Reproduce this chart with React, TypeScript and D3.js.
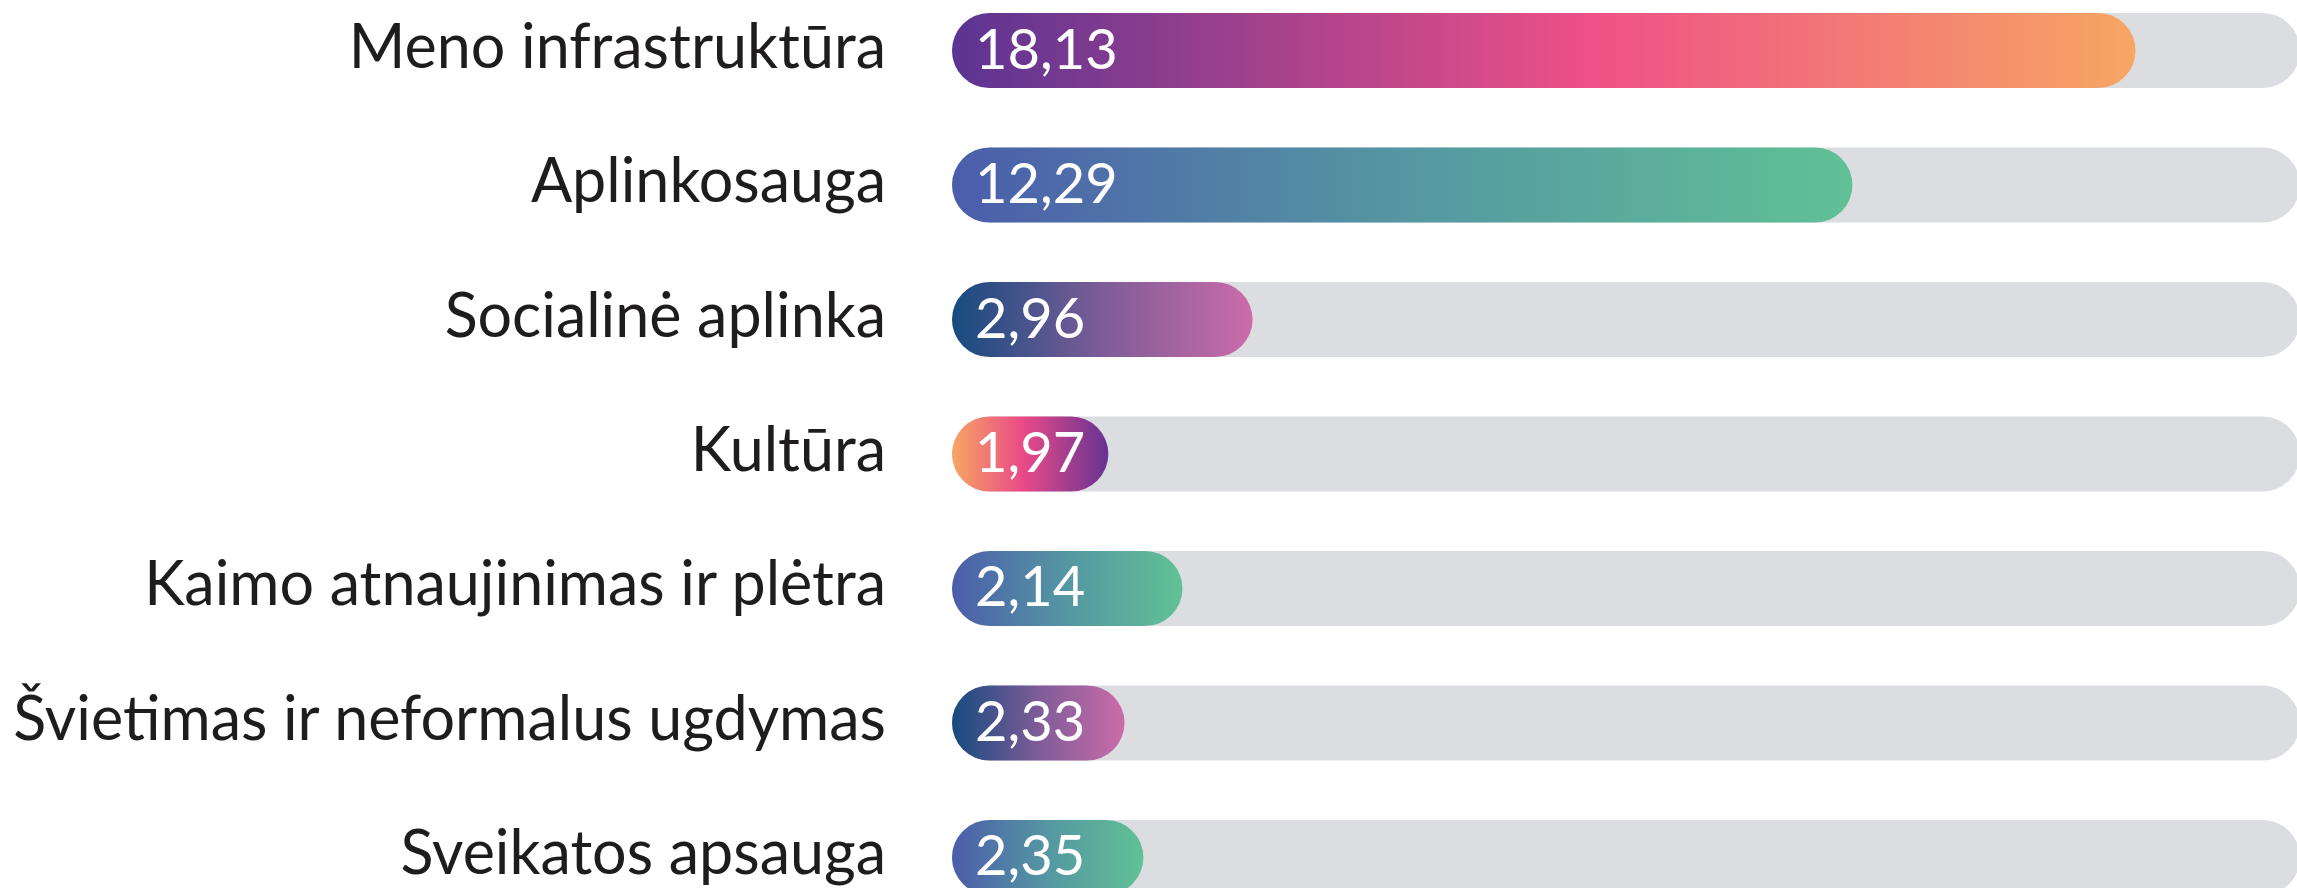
import React from "react";
import * as d3 from "d3";

const categories = [
  "Meno infrastruktūra",
  "Aplinkosauga",
  "Socialinė aplinka",
  "Kultūra",
  "Kaimo atnaujinimas ir plėtra",
  "Švietimas ir neformalus ugdymas",
  "Sveikatos apsauga",
];
const valueLabels = ["18,13", "12,29", "2,96", "1,97", "2,14", "2,33", "2,35"];
// bar lengths, in % of the grey track
const barLengths = [87.8, 66.8, 22.3, 11.6, 17.1, 12.8, 14.2];
const trackMax = 100;

const palettes: string[][] = [
  ["#5b3492", "#ef5087", "#f7a663"],
  ["#4b5dab", "#5597a2", "#61c196"],
  ["#164b80", "#7d5c98", "#cb6ca9"],
  ["#f7a663", "#ea4a87", "#663393"],
  ["#4b5dab", "#5597a2", "#61c196"],
  ["#164b80", "#7d5c98", "#cb6ca9"],
  ["#4b5dab", "#5597a2", "#61c196"],
];
const midStops = [0.54, 0.5, 0.5, 0.45, 0.5, 0.5, 0.5];

const W = 2297;
const H = 888;

export default function App() {
  const x = d3.scaleLinear().domain([0, trackMax]).range([952, 2300]);
  const y = d3
    .scaleBand<string>()
    .domain(categories)
    .range([13, 895])
    .paddingInner(0.442)
    .paddingOuter(0);
  const bh = y.bandwidth();
  const r = bh / 2;

  return (
    <svg
      width={W}
      height={H}
      style={{ position: "absolute", left: 0, top: 0, background: "#fff" }}
    >
      <defs>
        {palettes.map((p, i) => (
          <linearGradient key={i} id={`g${i}`} x1="0" y1="0" x2="1" y2="0">
            <stop offset="0" stopColor={p[0]} />
            <stop offset={midStops[i]} stopColor={p[1]} />
            <stop offset="1" stopColor={p[2]} />
          </linearGradient>
        ))}
      </defs>
      {categories.map((c, i) => {
        const top = y(c) as number;
        const cy = top + bh / 2;
        return (
          <g key={c}>
            <rect
              x={x(0)}
              y={top}
              width={x(trackMax) - x(0)}
              height={bh}
              rx={r}
              ry={r}
              fill="#dcdde0"
            />
            <rect
              x={x(0)}
              y={top}
              width={x(barLengths[i]) - x(0)}
              height={bh}
              rx={r}
              ry={r}
              fill={`url(#g${i})`}
            />
            <text
              x={886}
              y={cy + 17}
              textAnchor="end"
              fontFamily="Lato, sans-serif"
              fontSize={61}
              fill="#1f1c1d"
            >
              {c}
            </text>
            <text
              x={975}
              y={cy + 18}
              fontFamily="Lato, sans-serif"
              fontSize={56}
              fill="#ffffff"
            >
              {valueLabels[i]}
            </text>
          </g>
        );
      })}
    </svg>
  );
}
